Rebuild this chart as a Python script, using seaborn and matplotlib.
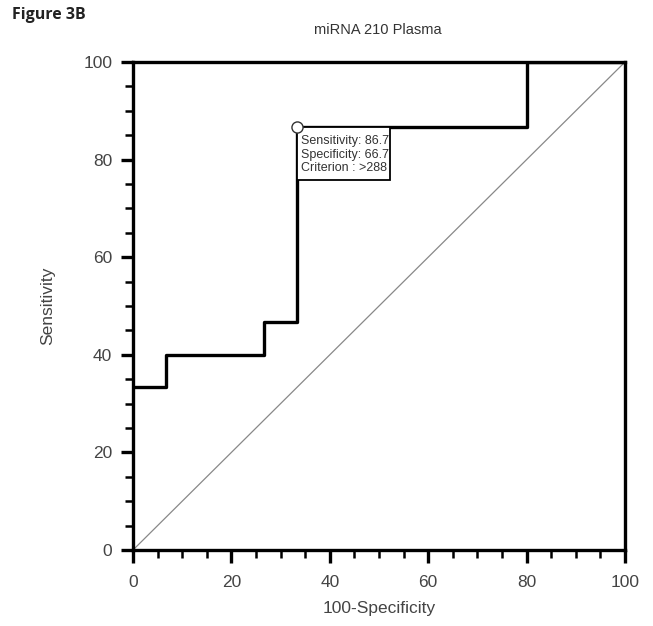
import matplotlib
matplotlib.use("Agg")
import matplotlib.pyplot as plt
import seaborn as sns
import pandas as pd
import numpy as np
from matplotlib.ticker import MultipleLocator
from matplotlib.patches import Rectangle

fpr = [0, 6.67, 26.67, 33.33, 80.0, 100.0]
sensitivity = [33.33, 40.0, 46.67, 86.67, 100.0, 100.0]
diag = [0, 100]
cut_x = 33.33
cut_y = 86.67
box_lines = ["Sensitivity: 86.7", "Specificity: 66.7", "Criterion : >288"]

sns.set_style("ticks")
plt.rcParams['font.family'] = ['Liberation Sans', 'DejaVu Sans']

fig = plt.figure(figsize=(6.53, 6.26), dpi=100)
ax = fig.add_axes([133/653, 1-550/626, (625-133)/653, (550-62)/626])

df = pd.DataFrame({"fpr": fpr, "sens": sensitivity})
sns.lineplot(data=df, x="fpr", y="sens", ax=ax, estimator=None, sort=False,
             drawstyle="steps-post", color="black", linewidth=2.4, zorder=3)
sns.lineplot(x=diag, y=diag, ax=ax, color="#888888", linewidth=0.9, zorder=2)
ax.plot([cut_x], [cut_y], marker="o", markersize=8, markerfacecolor="white",
        markeredgecolor="#333333", markeredgewidth=1.0, zorder=6, clip_on=False)

# annotation box (text clipped at the box edge as in the original)
box_w, box_h = 18.9, 10.9
rect = Rectangle((cut_x, cut_y - box_h), box_w, box_h, facecolor="white",
                 edgecolor="black", linewidth=1.3, zorder=4)
ax.add_patch(rect)
t = ax.text(cut_x + 0.9, cut_y - 1.6, "\n".join(box_lines), fontsize=9, va="top", ha="left",
            color="#333333", linespacing=1.2, zorder=5)
t.set_clip_path(rect)

ax.set_xlim(0, 100)
ax.set_ylim(0, 100)
ax.xaxis.set_major_locator(MultipleLocator(20))
ax.yaxis.set_major_locator(MultipleLocator(20))
ax.xaxis.set_minor_locator(MultipleLocator(5))
ax.yaxis.set_minor_locator(MultipleLocator(5))
ax.tick_params(which="major", direction="out", length=9, width=2.4, labelsize=12.5,
               colors="black", labelcolor="#444444", pad=6)
ax.tick_params(axis="x", which="major", pad=9)
ax.tick_params(which="minor", direction="out", length=5.5, width=1.8, colors="black")
for s in ax.spines.values():
    s.set_linewidth(2.4)
    s.set_color("black")

ax.set_xlabel("100-Specificity", fontsize=12.5, color="#444444", labelpad=8)
ax.set_ylabel("Sensitivity", fontsize=12.5, color="#444444", labelpad=20)

fig.text(378/653, 1-30/626, "miRNA 210 Plasma", fontsize=10.5, ha="center", va="center", color="#333333")
fig.text(12/653, 1-15/626, "Figure 3B", fontsize=11.5, fontweight="bold", ha="left", va="center",
         family=["Open Sans", "DejaVu Sans"], color="#222222")

fig.savefig("out.png", dpi=100)
